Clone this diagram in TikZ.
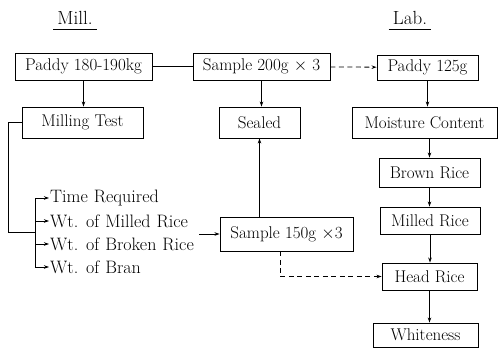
\documentclass[tikz,border=0pt]{standalone}
\usetikzlibrary{arrows.meta}
\newcommand{\myitemfont}{\fontsize{18}{21}\selectfont\spaceskip 6pt\relax}
\begin{document}
\begin{tikzpicture}[x=1pt,y=-1pt,
  box/.style={draw,line width=0.9pt,inner sep=0pt,font=\fontsize{17}{20}\selectfont},
  item/.style={anchor=west,inner sep=1pt,font=\myitemfont},
  ttl/.style={inner sep=0pt,font=\fontsize{19}{22}\selectfont},
  conn/.style={line width=0.8pt},
  arr/.style={conn,-{Stealth[length=5pt,width=3.5pt]}},
  darr/.style={arr,dash pattern=on 5pt off 3.5pt}]
\useasboundingbox (0,0) rectangle (498,348);
% titles
\node[ttl] (mill) at (75,18) {Mill.};
\node[ttl] (lab) at (410,18) {Lab.};
\draw[conn] ([xshift=-4pt,yshift=-5pt]mill.base west) -- ([xshift=4pt,yshift=-5pt]mill.base east);
\draw[conn] ([xshift=-4pt,yshift=-5pt]lab.base west) -- ([xshift=4pt,yshift=-5pt]lab.base east);
% boxes
\node[box,minimum width=137pt,minimum height=27pt] (paddyA) at (83.5,66.5) {Paddy 180-190kg};
\node[box,minimum width=137pt,minimum height=27pt] (sampleA) at (261.5,66.5) {Sample 200g $\times$ 3};
\node[box,minimum width=101pt,minimum height=25pt] (paddyB) at (427.5,67.5) {Paddy 125g};
\node[box,minimum width=121pt,minimum height=31pt] (milling) at (82.5,122.5) {Milling Test};
\node[box,minimum width=81pt,minimum height=31pt] (sealed) at (259.5,122.5) {Sealed};
\node[box,minimum width=145pt,minimum height=31pt] (moist) at (424.5,122.5) {Moisture Content};
\node[box,minimum width=101pt,minimum height=29pt] (brown) at (429.5,172.5) {Brown Rice};
\node[box,minimum width=100pt,minimum height=27pt] (milled) at (430,220.5) {Milled Rice};
\node[box,minimum width=95pt,minimum height=27pt] (head) at (429.5,276.5) {Head Rice};
\node[box,minimum width=105pt,minimum height=24pt] (white) at (425.5,335) {Whiteness};
\node[box,minimum width=133pt,minimum height=34pt] (sampleB) at (286.5,234) {Sample 150g $\times$3};
% items
\node[item] (t1) at (49,198) {Time Required};
\node[item] (t2) at (49,221) {Wt. of Milled Rice};
\node[item] (t3) at (49,244) {Wt. of Broken Rice};
\node[item] (t4) at (49,267) {Wt. of Bran};
\coordinate (brk) at (35,232);
\coordinate (fx) at (8,232);
% connectors
\draw[conn] (paddyA) -- (sampleA);
\draw[darr] (sampleA) -- (paddyB);
\draw[arr] (paddyA.south) -- (paddyA.south |- milling.north);
\draw[arr] (sampleA.south) -- (sampleA.south |- sealed.north);
\draw[arr] (paddyB.south) -- (paddyB.south |- moist.north);
\draw[arr] (moist.south -| brown.north) -- (brown.north);
\draw[arr] (brown.south) -- (brown.south |- milled.north);
\draw[arr] (milled.south) -- (milled.south |- head.north);
\draw[arr] (head.south) -- (head.south |- white.north);
\draw[arr] (sampleB.north -| sealed.south) -- (sealed.south);
\draw[darr] ([xshift=-6.5pt]sampleB.south) |- (head.west);
\draw[arr] ([xshift=4pt]t3.east |- sampleB.west) -- (sampleB.west);
\draw[conn] (milling.west) -| (fx) -- (brk);
\draw[conn] (brk |- t1.west) -- (brk |- t4.west);
\foreach \t in {t1,t2,t3,t4} \draw[arr] (brk |- \t.west) -- (\t.west);
\end{tikzpicture}
\end{document}
